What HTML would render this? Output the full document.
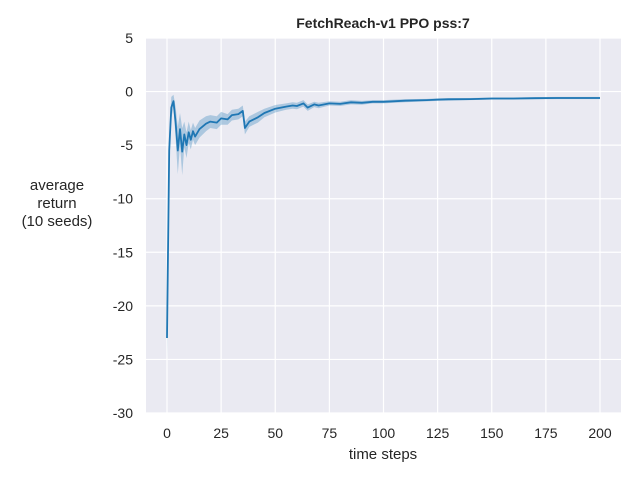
<!DOCTYPE html>
<html><head><meta charset="utf-8"><style>
body{margin:0;background:#fff}
svg{font-family:"Liberation Sans","DejaVu Sans",sans-serif}
</style></head><body>
<svg id="chart" width="640" height="480" viewBox="0 0 640 480">
<rect x="146" y="38" width="475" height="375" fill="#eaeaf2"/>
<g id="grid"></g>
<g id="ticks"></g>
<path id="band" fill="#1f77b4" fill-opacity="0.3" stroke="none"/>
<path id="line" fill="none" stroke="#1f77b4" stroke-width="1.8" stroke-linejoin="round"/>
<text x="383" y="28" text-anchor="middle" font-size="14" font-weight="bold" fill="#262626">FetchReach-v1 PPO pss:7</text>
<text x="383" y="459" text-anchor="middle" font-size="15" fill="#262626">time steps</text>
<text x="57" y="190" text-anchor="middle" font-size="15" fill="#262626"><tspan x="57">average</tspan><tspan x="57" dy="18">return</tspan><tspan x="57" dy="18">(10 seeds)</tspan></text>
</svg>
<script>
const steps = [0,1,2,3,4,5,6,7,8,9,10,11,12,13,15,18,20,23,25,28,30,33,35,36,38,42,45,50,55,58,60,63,65,68,70,75,80,85,90,95,100,110,120,125,130,140,150,160,170,180,190,200];
const meanVals = [-23,-5.5,-1.5,-0.9,-3,-5.5,-3.5,-5.6,-4.0,-5.0,-3.8,-4.5,-3.7,-4.2,-3.5,-3.0,-2.8,-2.9,-2.5,-2.6,-2.2,-2.1,-1.8,-3.4,-2.8,-2.4,-2.0,-1.6,-1.4,-1.3,-1.35,-1.1,-1.5,-1.2,-1.3,-1.1,-1.15,-1.0,-1.05,-0.95,-0.95,-0.85,-0.8,-0.75,-0.72,-0.7,-0.65,-0.65,-0.62,-0.6,-0.6,-0.6];
const halfWidth = [2.2,1.5,1.0,0.6,1.5,2.2,1.5,2.2,1.2,1.2,1.0,0.9,0.8,0.8,0.8,0.7,0.6,0.6,0.6,0.5,0.5,0.5,0.5,0.6,0.5,0.5,0.4,0.35,0.3,0.3,0.3,0.3,0.3,0.25,0.25,0.2,0.2,0.2,0.18,0.15,0.15,0.15,0.12,0.12,0.12,0.1,0.1,0.1,0.1,0.1,0.1,0.1];
const xTicks = [0,25,50,75,100,125,150,175,200];
const yTicks = [5,0,-5,-10,-15,-20,-25,-30];
const xs = v => 167 + v*(600-167)/200;
const ys = v => 38 + (5 - v)*(375/35);
const ns = "http://www.w3.org/2000/svg";
const grid = document.getElementById('grid'), ticks = document.getElementById('ticks');
xTicks.forEach(t=>{
  const l=document.createElementNS(ns,'line');
  l.setAttribute('x1',xs(t));l.setAttribute('x2',xs(t));l.setAttribute('y1',38);l.setAttribute('y2',413);
  l.setAttribute('stroke','#fff');l.setAttribute('stroke-width','1.2');
  
  
  grid.appendChild(l);
  const tx=document.createElementNS(ns,'text');
  tx.setAttribute('x',xs(t));tx.setAttribute('y',438);tx.setAttribute('text-anchor','middle');
  tx.setAttribute('font-size','14');tx.setAttribute('fill','#262626');tx.textContent=t;
  
  
  ticks.appendChild(tx);
});
yTicks.forEach(t=>{
  const l=document.createElementNS(ns,'line');
  l.setAttribute('x1',146);l.setAttribute('x2',621);l.setAttribute('y1',ys(t));l.setAttribute('y2',ys(t));
  l.setAttribute('stroke','#fff');l.setAttribute('stroke-width','1.2');
  
  
  grid.appendChild(l);
  const tx=document.createElementNS(ns,'text');
  tx.setAttribute('x',133);tx.setAttribute('y',ys(t)+5);tx.setAttribute('text-anchor','end');
  tx.setAttribute('font-size','14');tx.setAttribute('fill','#262626');tx.textContent=t;
  
  
  ticks.appendChild(tx);
});
let d='';
steps.forEach((s,i)=>{d+=(i?'L':'M')+xs(s).toFixed(1)+','+ys(meanVals[i]).toFixed(1);});
document.getElementById('line').setAttribute('d',d);
let b='';
steps.forEach((s,i)=>{b+=(i?'L':'M')+xs(s).toFixed(1)+','+ys(meanVals[i]+halfWidth[i]).toFixed(1);});
for(let i=steps.length-1;i>=0;i--){b+='L'+xs(steps[i]).toFixed(1)+','+ys(meanVals[i]-halfWidth[i]).toFixed(1);}
document.getElementById('band').setAttribute('d',b+'Z');
</script>
</body></html>
